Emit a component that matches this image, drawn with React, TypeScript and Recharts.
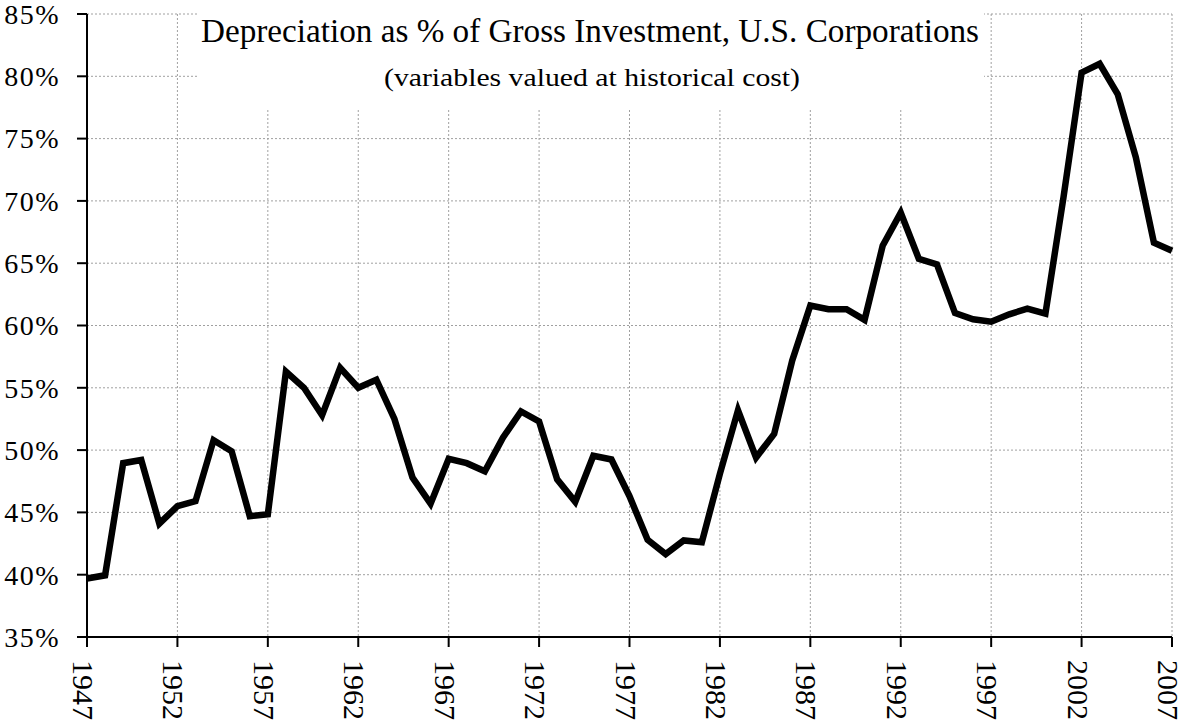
import React from "react";
import { LineChart, Line, XAxis, YAxis, CartesianGrid, Customized } from "recharts";

const years: number[] = [
  1947, 1948, 1949, 1950, 1951, 1952, 1953, 1954, 1955, 1956,
  1957, 1958, 1959, 1960, 1961, 1962, 1963, 1964, 1965, 1966,
  1967, 1968, 1969, 1970, 1971, 1972, 1973, 1974, 1975, 1976,
  1977, 1978, 1979, 1980, 1981, 1982, 1983, 1984, 1985, 1986,
  1987, 1988, 1989, 1990, 1991, 1992, 1993, 1994, 1995, 1996,
  1997, 1998, 1999, 2000, 2001, 2002, 2003, 2004, 2005, 2006, 2007,
];

const depreciationPct: number[] = [
  39.7, 39.95, 48.95, 49.2, 44.1, 45.5, 45.9, 50.8, 49.9, 44.7,
  44.85, 56.3, 55.0, 52.8, 56.6, 55.0, 55.65, 52.5, 47.8, 45.7,
  49.3, 48.95, 48.3, 51.0, 53.1, 52.3, 47.65, 45.85, 49.55, 49.25,
  46.3, 42.8, 41.65, 42.75, 42.6, 48.1, 53.2, 49.4, 51.3, 57.2,
  61.6, 61.3, 61.3, 60.45, 66.4, 69.05, 65.35, 64.9, 61.0, 60.5,
  60.3, 60.9, 61.35, 60.95, 70.3, 80.3, 81.0, 78.55, 73.5, 66.65, 66.0,
];

const xTicks: number[] = [1947, 1952, 1957, 1962, 1967, 1972, 1977, 1982, 1987, 1992, 1997, 2002, 2007];
const yTicks: number[] = [35, 40, 45, 50, 55, 60, 65, 70, 75, 80, 85];

const titleText = "Depreciation as % of Gross Investment, U.S. Corporations";
const subtitleText = "(variables valued at historical cost)";

const data = years.map((y, i) => ({ year: y, value: depreciationPct[i] }));

const FONT = "'Liberation Serif', 'Times New Roman', serif";

const XTick = (props: any) => {
  const { x, y, payload } = props;
  return (
    <g transform={`translate(${x},${y})`}>
      <text transform="rotate(90)" x={13} y={14} textAnchor="start" fontFamily={FONT} fontSize={30} fill="#000">
        {payload.value}
      </text>
    </g>
  );
};

const YTick = (props: any) => {
  const { x, y, payload } = props;
  return (
    <text x={x} y={y} dy="0.35em" textAnchor="end" fontFamily={FONT} fontSize={28} letterSpacing={1.5} fill="#000">
      {payload.value}%
    </text>
  );
};

const TitleBox = () => (
  <g>
    <rect x={197} y={13} width={787} height={95} fill="#fff" />
    <text x={590} y={42} textAnchor="middle" fontFamily={FONT} fontSize={33} fill="#000" textLength={778} lengthAdjust="spacingAndGlyphs">
      {titleText}
    </text>
    <text x={592} y={86} textAnchor="middle" fontFamily={FONT} fontSize={25} fill="#000" textLength={416} lengthAdjust="spacingAndGlyphs">
      {subtitleText}
    </text>
  </g>
);

export default function App() {
  return (
    <div style={{ position: "absolute", left: 0, top: 0, width: 1180, height: 725, background: "#fff" }}>
      <LineChart width={1180} height={725} data={data} margin={{ top: 14, right: 8, bottom: 0, left: 0 }}>
        <CartesianGrid stroke="#a0a0a0" strokeDasharray="2 2" strokeWidth={1} />
        <XAxis
          dataKey="year"
          type="number"
          domain={[1947, 2007]}
          ticks={xTicks}
          interval={0}
          height={88}
          tickSize={10}
          tickMargin={0}
          axisLine={{ stroke: "#000", strokeWidth: 2 }}
          tickLine={{ stroke: "#000", strokeWidth: 2 }}
          tick={<XTick />}
        />
        <YAxis
          type="number"
          domain={[35, 85]}
          ticks={yTicks}
          interval={0}
          width={87}
          tickSize={10}
          tickMargin={17}
          axisLine={{ stroke: "#000", strokeWidth: 2 }}
          tickLine={{ stroke: "#000", strokeWidth: 2 }}
          tick={<YTick />}
        />
        <Customized component={TitleBox} />
        <Line
          type="linear"
          dataKey="value"
          stroke="#000"
          strokeWidth={6.5}
          dot={false}
          activeDot={false}
          isAnimationActive={false}
        />
      </LineChart>
    </div>
  );
}
